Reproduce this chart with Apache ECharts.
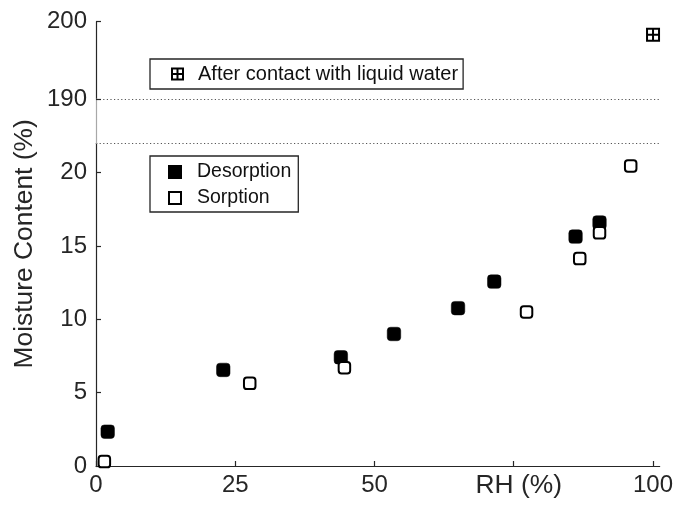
<!DOCTYPE html>
<html>
<head>
<meta charset="utf-8">
<script src="https://cdn.jsdelivr.net/npm/echarts@6/dist/echarts.min.js"></script>
<style>html,body{margin:0;padding:0;background:#fff}#c{width:676px;height:506px}</style>
</head>
<body>
<div id="c"></div>
<script>
// ---- data ----
const desorptionRH = [2.1, 22.85, 43.96, 53.5, 65.0, 71.5, 86.1, 90.4];
const desorptionMC = [2.34, 6.55, 7.41, 9.0, 10.76, 12.57, 15.64, 16.6];
const sorptionRH = [1.5, 27.6, 44.6, 77.3, 86.85, 90.4, 96.0];
const sorptionMC = [0.3, 5.64, 6.7, 10.5, 14.14, 15.9, 20.46];
const liquidRH = [99.95];
const liquidMC = [198.3];
const xTicks = [0, 25, 50, 75, 100];
const yTicksLow = [0, 5, 10, 15, 20];
const yTicksHigh = [190, 200];
const names = ['Desorption', 'Sorption', 'After contact with liquid water'];

const FONT = "'Liberation Sans', Arial, Helvetica, sans-serif";
const INK = '#262626';
const plusSquare = 'path://M0,0H10V10H0Z M5,0V10 M0,5H10';

const zip = (a, b) => a.map((v, i) => [v, b[i]]);

const L = 96, R = 16;
const xBase = {min: 0, max: 101.2};

const chart = echarts.init(document.getElementById('c'), null, {renderer: 'canvas'});
chart.setOption({
  animation: false,
  textStyle: {fontFamily: FONT},
  grid: [
    {left: L, right: R, top: 143.3, height: 322.7},   // lower 0..22
    {left: L, right: R, top: 21.7, height: 77.3},     // upper 190..200
    {left: L, right: R, top: 99, height: 44.3},       // break gap
    {left: L, right: R, top: 21.7, height: 444.3}     // full height (axis name)
  ],
  xAxis: [
    {gridIndex: 0, type: 'value', ...xBase,
     axisLine: {show: true, onZero: false, lineStyle: {color: INK, width: 1.2}},
     axisTick: {show: true, inside: true, length: 5, customValues: xTicks, lineStyle: {color: INK, width: 1.2}},
     axisLabel: {show: true, customValues: xTicks, margin: 7, fontSize: 24, color: INK, fontFamily: FONT,
       formatter: v => v === 75 ? '{n|RH (%)}' : String(v),
       rich: {n: {fontSize: 26.4, color: INK, fontFamily: FONT, padding: [0, 0, 0, 10]}}},
     splitLine: {show: false}},
    {gridIndex: 1, type: 'value', ...xBase, show: false, splitLine: {show: false}},
    {gridIndex: 2, type: 'value', ...xBase, show: false, splitLine: {show: false}},
    {gridIndex: 3, type: 'value', ...xBase, show: false, splitLine: {show: false}}
  ],
  yAxis: [
    {gridIndex: 0, type: 'value', min: 0, max: 22,
     axisLine: {show: true, onZero: false, lineStyle: {color: INK, width: 1.2}},
     axisTick: {show: true, inside: true, length: 5, customValues: yTicksLow, lineStyle: {color: INK, width: 1.2}},
     axisLabel: {show: true, customValues: yTicksLow, margin: 9, fontSize: 24, color: INK, fontFamily: FONT},
     splitLine: {show: false}},
    {gridIndex: 1, type: 'value', min: 190, max: 200, interval: 10,
     axisLine: {show: true, onZero: false, lineStyle: {color: INK, width: 1.2}},
     axisTick: {show: true, inside: true, length: 5, customValues: yTicksHigh, lineStyle: {color: INK, width: 1.2}},
     axisLabel: {show: true, customValues: yTicksHigh, margin: 9, fontSize: 24, color: INK, fontFamily: FONT},
     splitLine: {show: false}},
    {gridIndex: 2, type: 'value', min: 0, max: 1, interval: 1,
     axisLine: {show: true, onZero: false, lineStyle: {color: '#a8a8a8', width: 1.2}},
     axisTick: {show: false}, axisLabel: {show: false},
     splitLine: {show: true, showMinLine: true, showMaxLine: true, lineStyle: {color: '#555', type: [1.2, 2.4], width: 1}}},
    {gridIndex: 3, type: 'value', min: 0, max: 1,
     name: 'Moisture Content (%)', nameLocation: 'middle', nameRotate: 90, nameGap: 58,
     nameTextStyle: {fontSize: 26.4, color: INK, fontFamily: FONT},
     axisLine: {show: false}, axisTick: {show: false}, axisLabel: {show: false}, splitLine: {show: false}}
  ],
  legend: [
    {data: [{name: names[2], icon: plusSquare}], left: 150, top: 59,
     orient: 'vertical', itemWidth: 11, itemHeight: 11,
     padding: [5, 5, 5, 21], borderColor: INK, borderWidth: 1.3, backgroundColor: '#fff',
     textStyle: {fontSize: 20, color: '#111', fontFamily: FONT, padding: [0, 0, 0, 10]},
     itemStyle: {borderWidth: 2, opacity: 1}},
    {data: [{name: names[0], icon: 'rect'}, {name: names[1], icon: 'rect'}], left: 150, top: 156,
     orient: 'vertical', itemWidth: 12, itemHeight: 12, itemGap: 6,
     padding: [6, 7, 4, 18], borderColor: INK, borderWidth: 1.3, backgroundColor: '#fff',
     textStyle: {fontSize: 19.5, color: '#111', fontFamily: FONT, padding: [0, 0, 0, 11]},
     itemStyle: {opacity: 1}}
  ],
  series: [
    {name: names[0], type: 'scatter', xAxisIndex: 0, yAxisIndex: 0, clip: false,
     symbol: 'roundRect', symbolSize: 13.5,
     itemStyle: {color: '#000', borderColor: '#000', borderWidth: 0.5, opacity: 1},
     data: zip(desorptionRH, desorptionMC), z: 3},
    {name: names[1], type: 'scatter', xAxisIndex: 0, yAxisIndex: 0, clip: false,
     symbol: 'roundRect', symbolSize: 11.5,
     itemStyle: {color: '#fff', borderColor: '#000', borderWidth: 2, opacity: 1},
     data: zip(sorptionRH, sorptionMC), z: 4},
    {name: names[2], type: 'scatter', xAxisIndex: 1, yAxisIndex: 1, clip: false,
     symbol: plusSquare, symbolSize: 12,
     itemStyle: {color: '#fff', borderColor: '#000', borderWidth: 2, opacity: 1},
     data: zip(liquidRH, liquidMC)}
  ]
});
</script>
</body>
</html>
